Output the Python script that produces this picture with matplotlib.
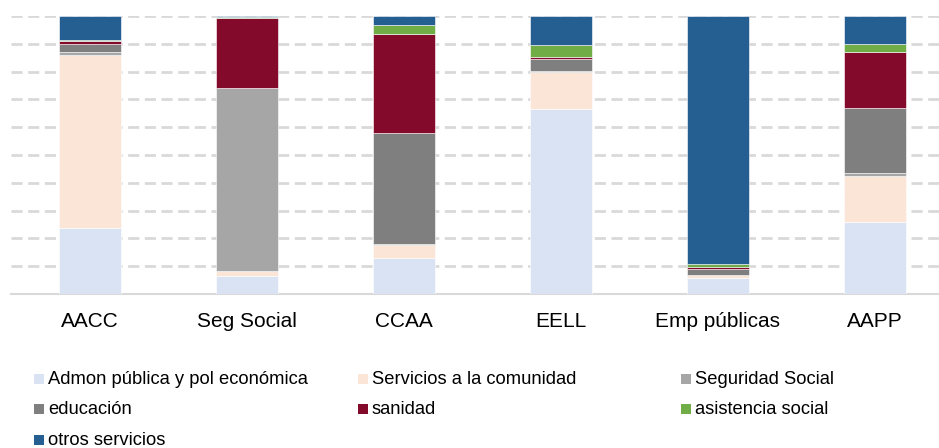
import matplotlib.pyplot as plt
from matplotlib.patches import Rectangle

plt.rcParams['font.family'] = ['Liberation Sans', 'DejaVu Sans']

categories = ['AACC', 'Seg Social', 'CCAA', 'EELL', 'Emp públicas', 'AAPP']
series_names = ['Admon pública y pol económica', 'Servicios a la comunidad',
                'Seguridad Social', 'educación', 'sanidad',
                'asistencia social', 'otros servicios']
colors = ['#dae3f3', '#fbe5d6', '#a6a6a6', '#7f7f7f', '#840a2b',
          '#70ad47', '#255e91']

# share (%) of each function within each administration
admon = [23.8, 6.6, 13.1, 66.7, 5.9, 26.0]
servicios = [62.3, 1.5, 4.5, 13.2, 0.8, 16.5]
seg_social = [1.0, 66.0, 0.4, 0.3, 0.2, 1.0]
educacion = [3.0, 0.0, 39.8, 4.2, 2.0, 23.3]
sanidad = [1.0, 25.2, 35.6, 0.7, 0.9, 20.3]
asistencia = [0.4, 0.5, 3.2, 4.5, 1.1, 3.0]
otros = [8.5, 0.2, 3.4, 10.4, 89.1, 9.9]
series = [admon, servicios, seg_social, educacion, sanidad, asistencia, otros]

fig = plt.figure(figsize=(9.39, 4.48), dpi=100)
ax = fig.add_axes([11 / 939, 1 - 294 / 448, 928 / 939, 278 / 448])

x = list(range(len(categories)))
bottom = [0.0] * len(categories)
for vals, col in zip(series, colors):
    ax.bar(x, vals, 0.4, bottom=bottom, color=col, edgecolor='white',
           linewidth=0.4, zorder=3)
    bottom = [b + v for b, v in zip(bottom, vals)]

ax.set_ylim(0, 100)
ax.set_xlim(-0.503, 5.408)
ax.set_yticks(range(10, 101, 10))
ax.yaxis.grid(True, color='#d9d9d9', linestyle=(0, (4, 2)), linewidth=2, zorder=0)
ax.tick_params(axis='y', left=False, labelleft=False)
ax.tick_params(axis='x', length=0, pad=13, labelsize=15, colors='black')
ax.set_xticks(x)
ax.set_xticklabels(categories)
for s in ['top', 'right', 'left']:
    ax.spines[s].set_visible(False)
ax.spines['bottom'].set_color('#d9d9d9')
ax.spines['bottom'].set_linewidth(1.5)

# legend laid out like the original, three columns
col_x = [34, 358, 681]
row_y = [379, 409, 440]
for i, (name, col) in enumerate(zip(series_names, colors)):
    r, c = divmod(i, 3)
    px, py = col_x[c], row_y[r]
    fig.patches.append(Rectangle((px / 939, 1 - (py + 5) / 448), 10 / 939, 10 / 448,
                                 transform=fig.transFigure, facecolor=col,
                                 edgecolor='none'))
    fig.text((px + 14) / 939, 1 - py / 448, name, fontsize=13.2,
             va='center', ha='left')

fig.savefig('out.png', dpi=100)
